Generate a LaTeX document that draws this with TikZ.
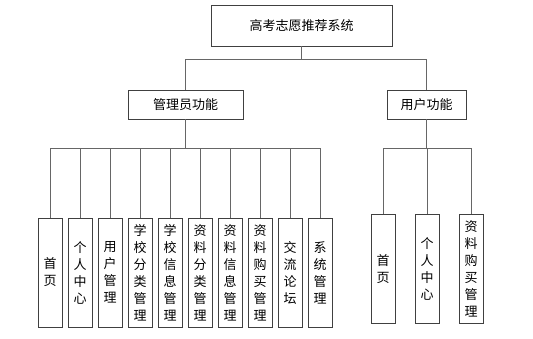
\documentclass[tikz,border=0pt]{standalone}
\usepackage{fontspec}
\setmainfont{Noto Sans CJK SC}
\usetikzlibrary{positioning}
\tikzset{
box/.style={draw=black!75,line width=0.9pt,fill=white,inner sep=0pt,
  font=\fontsize{13}{17}\selectfont},
leaf/.style={box,minimum width=24pt,minimum height=109pt,align=center,text width=13pt},
link/.style={draw=black!60,line width=1pt}
}
\begin{document}
\begin{tikzpicture}[x=1pt,y=-1pt]
\useasboundingbox (0,0) rectangle (533,338);
\node[box,minimum width=181pt,minimum height=41pt] (root) at (301.5,25.5) {高考志愿推荐系统};
\node[box,minimum width=115pt,minimum height=29pt] (admin) at (185.5,104.5) {管理员功能};
\node[box,minimum width=79pt,minimum height=29pt] (user) at (426.5,104.5) {用户功能};
\draw[link] (root.south) -- ++(0,13) -| (admin.north);
\draw[link] (root.south) -- ++(0,13) -| (user.north);
% admin functions
\foreach \txt [count=\i] in {{首\\页},{个\\人\\中\\心},{用\\户\\管\\理},
  {学\\校\\分\\类\\管\\理},{学\\校\\信\\息\\管\\理},{资\\料\\分\\类\\管\\理},
  {资\\料\\信\\息\\管\\理},{资\\料\\购\\买\\管\\理},{交\\流\\论\\坛},{系\\统\\管\\理}}
{
  \node[leaf] (a\i) at (20+30*\i,272.5) {\txt};
  \draw[link] (admin.south) -- ++(0,29) -| (a\i.north);
}
% user functions
\foreach \txt [count=\i] in {{首\\页},{个\\人\\中\\心},{资\\料\\购\\买\\管\\理}}
{
  \node[leaf] (u\i) at (339+44*\i,269) {\txt};
  \draw[link] (user.south) -- ++(0,29) -| (u\i.north);
}
\end{tikzpicture}
\end{document}
